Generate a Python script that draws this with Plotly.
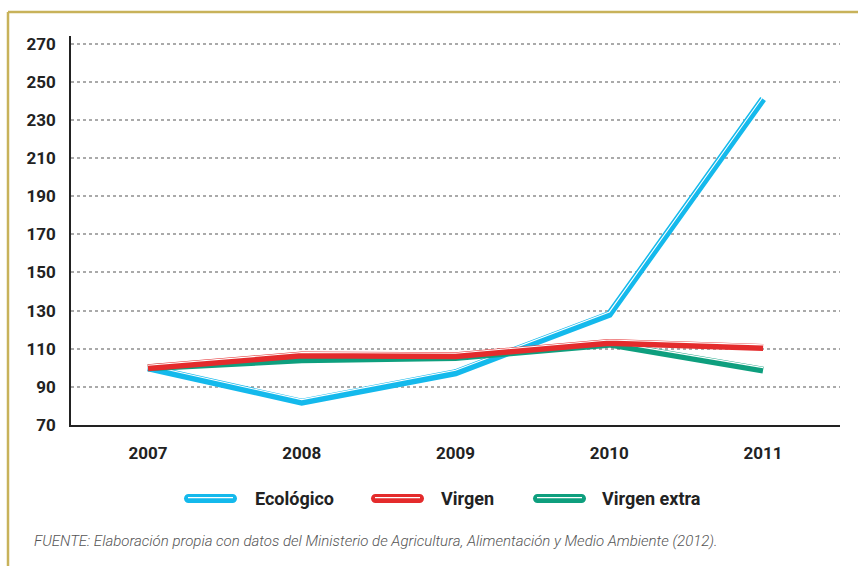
import plotly.graph_objects as go

years = ["2007", "2008", "2009", "2010", "2011"]
ecologico = [100, 82, 97.4, 128, 241]
virgen = [100, 106.7, 106.3, 113.3, 110.7]
virgen_extra = [100, 104.2, 105.4, 112.4, 98.8]
y_ticks = [70, 90, 110, 130, 150, 170, 190, 210, 230, 250, 270]

series = [
    ("Ecológico", ecologico, "#14b9ec"),
    ("Virgen extra", virgen_extra, "#0e9f7e"),
    ("Virgen", virgen, "#e42b2c"),
]
legend_order = [("Ecológico", "#14b9ec"), ("Virgen", "#e42b2c"), ("Virgen extra", "#0e9f7e")]

W, H = 858, 566
ML, MR, MT, MB = 71, 18, 36, 141
PW, PH = W - ML - MR, H - MT - MB

def px(x):
    return (x - ML) / PW

def py(y):
    return (H - MB - y) / PH

fig = go.Figure()
for name, vals, color in series:
    fig.add_trace(go.Scatter(x=years, y=vals, mode="lines", name=name,
                             line=dict(color=color, width=7), showlegend=False,
                             hoverinfo="skip"))
    fig.add_trace(go.Scatter(x=years, y=[v + 1.3 for v in vals], mode="lines",
                             line=dict(color="white", width=1.1), showlegend=False,
                             hoverinfo="skip"))

font_main = "Roboto"
shapes = []
annotations = []
# frame
frame_color = "#c8b25a"
shapes.append(dict(type="line", xref="paper", yref="paper", x0=px(8), x1=px(W + 5),
                   y0=py(12), y1=py(12), line=dict(color=frame_color, width=2.5)))
shapes.append(dict(type="line", xref="paper", yref="paper", x0=px(8), x1=px(8),
                   y0=py(12), y1=py(H + 5), line=dict(color=frame_color, width=2.5)))

# legend
leg_x = [184, 371, 533]
txt_x = [253, 439, 600]
leg_y = 498.5
pill = ("M 4.5,-4.5 L 48.5,-4.5 C 51,-4.5 53,-2.5 53,0 C 53,2.5 51,4.5 48.5,4.5 L 4.5,4.5 "
        "C 2,4.5 0,2.5 0,0 C 0,-2.5 2,-4.5 4.5,-4.5 Z")
for (name, color), lx, tx in zip(legend_order, leg_x, txt_x):
    shapes.append(dict(type="path", xref="paper", yref="paper", xsizemode="pixel",
                       ysizemode="pixel", xanchor=px(lx), yanchor=py(leg_y), path=pill,
                       fillcolor=color, line=dict(width=0)))
    shapes.append(dict(type="path", xref="paper", yref="paper", xsizemode="pixel",
                       ysizemode="pixel", xanchor=px(lx), yanchor=py(leg_y),
                       path="M 4,0.8 L 49,0.8", line=dict(color="white", width=1.3)))
    annotations.append(dict(xref="paper", yref="paper", x=px(tx), y=py(leg_y),
                            xanchor="left", yanchor="middle", showarrow=False,
                            text="<b>" + name + "</b>",
                            font=dict(family=font_main, size=18, color="#222")))

annotations.append(dict(xref="paper", yref="paper", x=px(32), y=py(541), xanchor="left",
                        yanchor="middle", showarrow=False,
                        text="<i>FUENTE: Elaboración propia con datos del Ministerio de Agricultura, "
                             "Alimentación y Medio Ambiente (2012).</i>",
                        font=dict(family=font_main, size=15, color="#555", weight=300)))

fig.update_layout(
    width=W, height=H,
    margin=dict(l=ML, r=MR, t=MT, b=MB),
    paper_bgcolor="white", plot_bgcolor="white",
    showlegend=False,
    shapes=shapes, annotations=annotations,
    xaxis=dict(type="category", range=[-0.5, 4.5], showgrid=False, zeroline=False,
               showline=True, linecolor="#222", linewidth=1.5, ticks="",
               ticklabelstandoff=12,
               tickfont=dict(family=font_main, size=17, color="#222", weight="bold")),
    yaxis=dict(range=[70, 274], tickvals=y_ticks, showgrid=True, gridcolor="#aaaaaa",
               griddash="dot", gridwidth=1.5, zeroline=False, showline=True,
               linecolor="#222", linewidth=1.5, ticks="", ticklabelstandoff=10,
               tickfont=dict(family=font_main, size=17, color="#222", weight="bold")),
)

fig.write_html("out.html", config={"displayModeBar": False},
               post_script="document.body.style.margin='0';document.body.style.overflow='hidden';")
